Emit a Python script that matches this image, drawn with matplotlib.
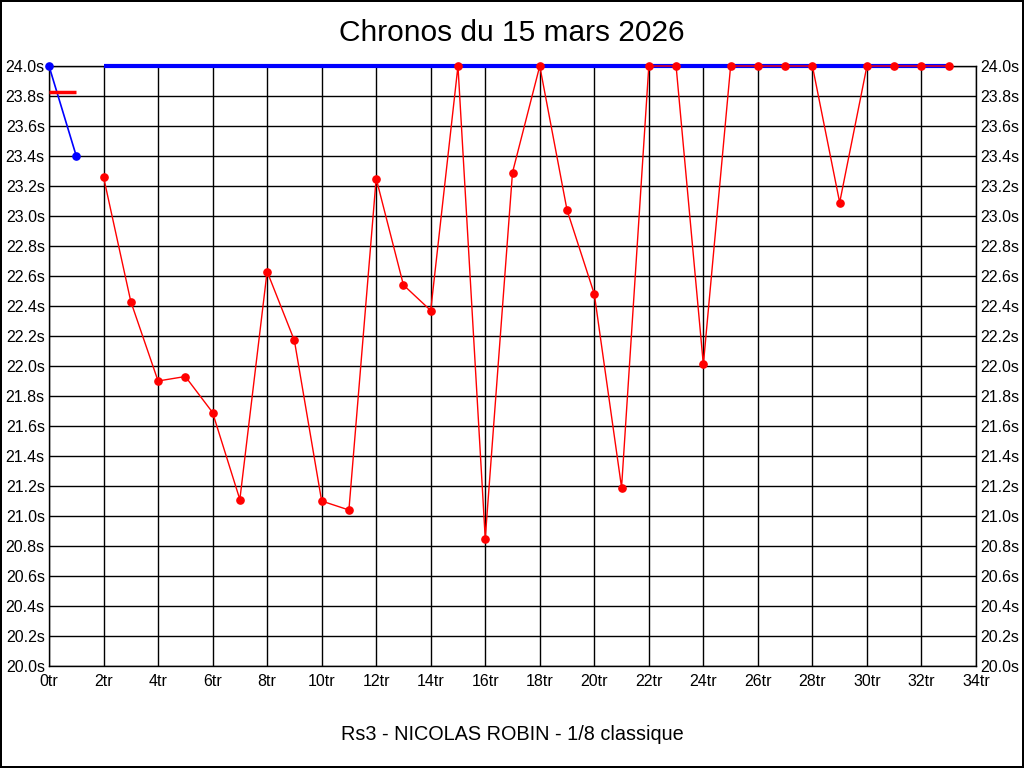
import matplotlib
matplotlib.use("Agg")
import matplotlib.pyplot as plt
import numpy as np

plt.rcParams['font.family'] = ['Liberation Sans', 'DejaVu Sans']

title = "Chronos du 15 mars 2026"
subtitle = "Rs3 - NICOLAS ROBIN - 1/8 classique"

# red series: laps 2..33
red_x = list(range(2, 34))
red_y = [23.26, 22.43, 21.90, 21.93, 21.69, 21.11, 22.63, 22.17, 21.10, 21.04,
         23.25, 22.54, 22.37, 24.0, 20.85, 23.29, 24.0, 23.04, 22.48, 21.19,
         24.0, 24.0, 22.01, 24.0, 24.0, 24.0, 24.0, 23.09, 24.0, 24.0, 24.0, 24.0]

# blue series
blue_start_x = [0, 1]
blue_start_y = [24.0, 23.4]
blue_line_x = [2, 33]
blue_line_y = [24.0, 24.0]

# short red reference segment
ref_x = [0, 1]
ref_y = [23.83, 23.83]

x_ticks = list(range(0, 35, 2))
x_labels = [f"{t}tr" for t in x_ticks]
y_ticks = [round(20.0 + 0.2 * i, 1) for i in range(21)]
y_labels = [f"{t:.1f}s" for t in y_ticks]

W, H = 1024, 768
fig = plt.figure(figsize=(W / 100, H / 100), dpi=100)
fig.patch.set_facecolor('white')
fig.patch.set_edgecolor('black')
fig.patch.set_linewidth(1.5)

ax = fig.add_axes([49 / W, 1 - 666 / H, (976 - 49) / W, (666 - 66) / H])
ax.set_xlim(0, 34)
ax.set_ylim(20.0, 24.0)
ax.set_xticks(x_ticks)
ax.set_xticklabels(x_labels)
ax.set_yticks(y_ticks)
ax.set_yticklabels(y_labels)
ax.tick_params(axis='both', length=0, labelsize=11.5, pad=3)
ax.tick_params(axis='y', right=True, labelright=True)
ax.tick_params(axis='x', pad=6)
ax.grid(True, color='black', linewidth=1)
for s in ax.spines.values():
    s.set_color('black')
    s.set_linewidth(1)
ax.set_axisbelow(True)

ax.plot(blue_line_x, blue_line_y, color='#0000ff', linewidth=3, solid_capstyle='butt',
        zorder=3, clip_on=False)
ax.plot(blue_start_x, blue_start_y, color='#0000ff', linewidth=1.2, marker='o',
        markersize=5.2, zorder=4, clip_on=False)
ax.plot(ref_x, ref_y, color='#ff0000', linewidth=2.5, solid_capstyle='butt', zorder=4,
        clip_on=False)
ax.plot(red_x, red_y, color='#ff0000', linewidth=1.0, marker='o', markersize=5.2,
        zorder=5, clip_on=False)

fig.text(0.5, 1 - 33 / H, title, ha='center', va='center', fontsize=21.5)
fig.text(0.5, 1 - 735 / H, subtitle, ha='center', va='center', fontsize=14.3)

fig.savefig("out.png", dpi=100, facecolor='white', edgecolor='black')
